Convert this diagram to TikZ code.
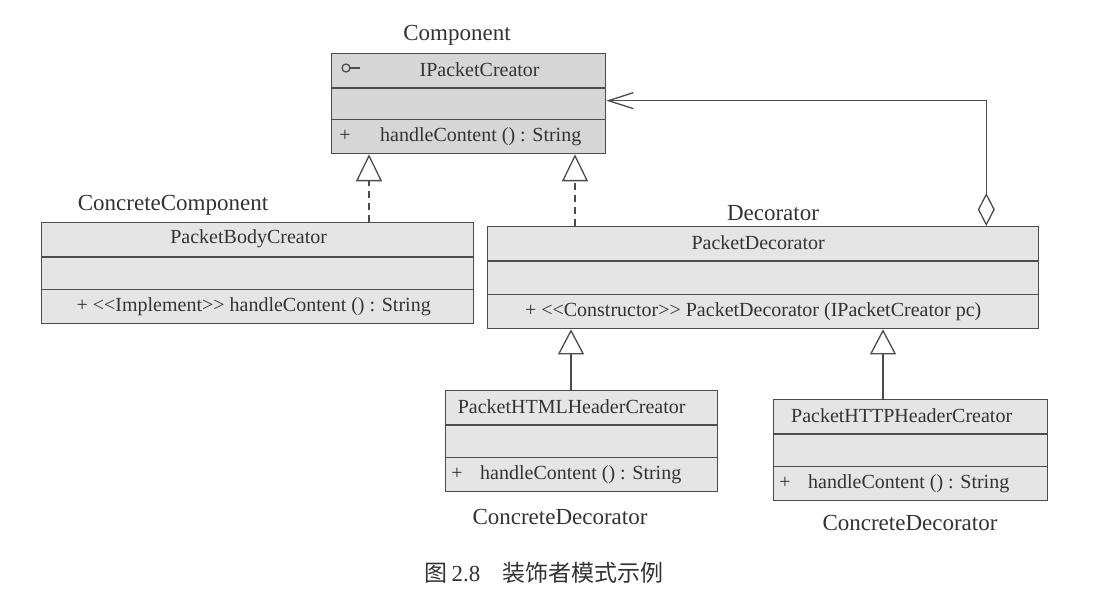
\documentclass[tikz,border=0pt]{standalone}
\usepackage{fontspec}
\setmainfont{Liberation Serif}
\newfontfamily\cjkfont{Noto Sans CJK SC}
\usetikzlibrary{arrows.meta,positioning}

\newcommand\stereo[1]{<\kern0pt<#1>\kern0pt>}

\tikzset{
  classbox/.style={draw=black!70, line width=1.3pt, fill=gray!20, inner sep=0pt, minimum height=101pt, anchor=north west},
  rowline/.style={draw=black!70, line width=1.3pt},
  boxtext/.style={inner sep=0pt, font=\fontsize{20}{23}\selectfont, text=black!80},
  rolelabel/.style={inner sep=0pt, font=\fontsize{23}{26}\selectfont, text=black!80},
  realize/.style={draw=black!70, line width=1.3pt, dash pattern=on 7pt off 5pt, -{Triangle[open,length=27pt,width=26pt]}},
  inherit/.style={draw=black!70, line width=1.3pt, -{Triangle[open,length=25pt,width=26pt]}},
  aggregate/.style={draw=black!70, line width=1.3pt, {Diamond[open,length=33pt,width=17pt]}-{Straight Barb[length=25pt,width=16pt]}},
}

\begin{document}
\begin{tikzpicture}[x=1pt,y=-1pt]
      \path[use as bounding box, fill=white] (0,0) rectangle (1117,599);
      \node[classbox, fill=gray!32, minimum width=274pt, minimum height=100pt] (ipc) at (331,53) {};
      \node[classbox, minimum width=432pt] (body) at (41,222) {};
      \node[classbox, minimum width=551pt, minimum height=102pt] (deco) at (487,226) {};
      \node[classbox, minimum width=272pt] (html) at (445,390) {};
      \node[classbox, minimum width=274pt] (http) at (773,399) {};
      \foreach \c in {ipc,body,deco,html,http} {
        \draw[rowline] ([yshift=-35pt]\c.north west) -- ([yshift=-35pt]\c.north east);
        \draw[rowline] ([yshift=35pt]\c.south west) -- ([yshift=35pt]\c.south east);
      }
      \draw[rowline] ([xshift=15pt,yshift=-15pt]ipc.north west) circle (4pt);
      \draw[rowline] ([xshift=19pt,yshift=-15pt]ipc.north west) -- ([xshift=29pt,yshift=-15pt]ipc.north west);
      \node[boxtext] (ipcname) at ([xshift=11pt,yshift=-17pt]ipc.north) {IPacketCreator};
      \node[boxtext] (ipcplus) at ([xshift=14pt,yshift=18pt]ipc.south west) {+};
      \node[boxtext, anchor=west] (ipcop) at ([xshift=49pt,yshift=18pt]ipc.south west) {handleContent () : String};
      \node[boxtext] (bodyname) at ([xshift=-9pt,yshift=-17pt]body.north) {PacketBodyCreator};
      \node[boxtext] (bodyop) at ([xshift=-4pt,yshift=18pt]body.south) {+ \stereo{Implement} handleContent () : String};
      \node[boxtext] (deconame) at ([xshift=-5pt,yshift=-17pt]deco.north) {PacketDecorator};
      \node[boxtext] (decoop) at ([xshift=-10pt,yshift=18pt]deco.south) {+ \stereo{Constructor} PacketDecorator (IPacketCreator pc)};
      \node[boxtext] (htmlname) at ([xshift=-10pt,yshift=-17pt]html.north) {PacketHTMLHeaderCreator};
      \node[boxtext] (htmlplus) at ([xshift=12pt,yshift=18pt]html.south west) {+};
      \node[boxtext, anchor=west] (htmlop) at ([xshift=35pt,yshift=18pt]html.south west) {handleContent () : String};
      \node[boxtext] (httpname) at ([xshift=-9pt,yshift=-17pt]http.north) {PacketHTTPHeaderCreator};
      \node[boxtext] (httpplus) at ([xshift=12pt,yshift=18pt]http.south west) {+};
      \node[boxtext, anchor=west] (httpop) at ([xshift=35pt,yshift=18pt]http.south west) {handleContent () : String};
      \node[rolelabel] (lblcomp) at (457,35) {Component};
      \node[rolelabel] (lblconc) at (173,205) {ConcreteComponent};
      \node[rolelabel] (lbldeco) at (773,213) {Decorator};
      \node[rolelabel] (lblhtml) at (560,517) {ConcreteDecorator};
      \node[rolelabel] (lblhttp) at (910,523) {ConcreteDecorator};
      \node[rolelabel, font=\fontsize{23}{26}\selectfont] (caption) at (544,573) {{\cjkfont 图}\,2.8\hspace{22pt}{\cjkfont 装饰者模式示例}};
      \draw[realize] ([xshift=328pt]body.north west) -- ([xshift=38pt]ipc.south west);
      \draw[realize] ([xshift=88pt]deco.north west) -- ([xshift=244pt]ipc.south west);
      \draw[inherit] ([xshift=126pt]html.north west) -- ([xshift=84pt]deco.south west);
      \draw[inherit] ([xshift=110pt]http.north west) -- ([xshift=396pt]deco.south west);
      \draw[aggregate] ([xshift=-53pt]deco.north east) |- ([yshift=3pt]ipc.east);
\end{tikzpicture}
\end{document}
